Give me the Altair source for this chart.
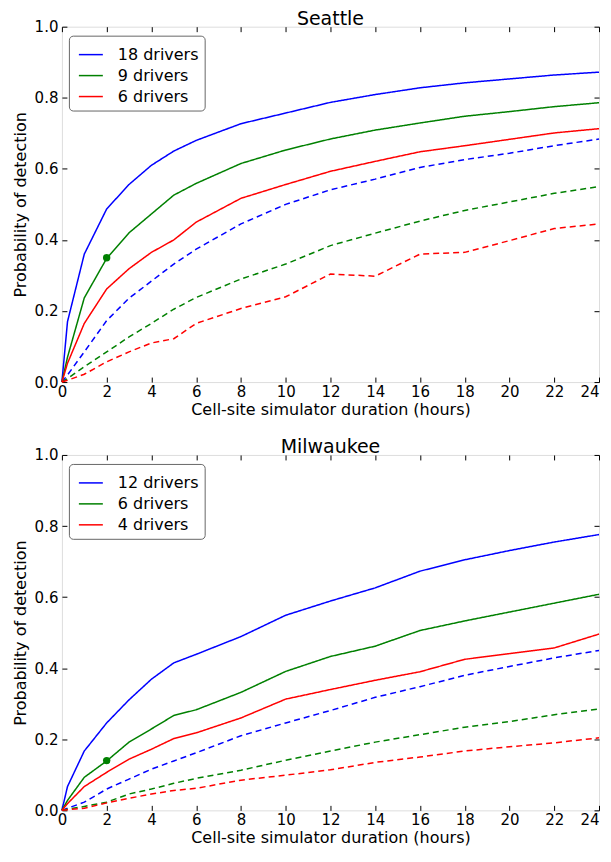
import altair as alt
import pandas as pd

hours = [0, 0.25, 1, 2, 3, 4, 5, 6, 8, 10, 12, 14, 16, 18, 20, 22, 24]

# Seattle
sea_labels = ["18 drivers", "9 drivers", "6 drivers"]
sea_18_solid = [0, 0.17, 0.36, 0.487, 0.556, 0.61, 0.65, 0.68, 0.727, 0.757, 0.787, 0.809, 0.828, 0.842, 0.853, 0.864, 0.872]
sea_9_solid = [0, 0.07, 0.237, 0.348, 0.42, 0.473, 0.526, 0.559, 0.615, 0.653, 0.684, 0.709, 0.729, 0.748, 0.761, 0.775, 0.786]
sea_6_solid = [0, 0.053, 0.165, 0.262, 0.319, 0.365, 0.40, 0.45, 0.517, 0.556, 0.593, 0.621, 0.648, 0.665, 0.683, 0.701, 0.713]
sea_18_dash = [0, 0.02, 0.085, 0.173, 0.236, 0.284, 0.332, 0.374, 0.445, 0.50, 0.541, 0.571, 0.604, 0.626, 0.644, 0.665, 0.684]
sea_9_dash = [0, 0.01, 0.043, 0.085, 0.127, 0.165, 0.205, 0.238, 0.29, 0.332, 0.384, 0.419, 0.453, 0.483, 0.507, 0.531, 0.55]
sea_6_dash = [0, 0.005, 0.022, 0.057, 0.085, 0.11, 0.122, 0.165, 0.207, 0.24, 0.304, 0.298, 0.36, 0.365, 0.398, 0.432, 0.445]
sea_dot = (2, 0.35)

# Milwaukee
mil_labels = ["12 drivers", "6 drivers", "4 drivers"]
mil_12_solid = [0, 0.067, 0.167, 0.246, 0.311, 0.369, 0.415, 0.439, 0.489, 0.549, 0.589, 0.626, 0.673, 0.705, 0.731, 0.755, 0.776]
mil_6_solid = [0, 0.028, 0.093, 0.139, 0.192, 0.229, 0.267, 0.283, 0.332, 0.391, 0.433, 0.462, 0.506, 0.533, 0.558, 0.583, 0.608]
mil_4_solid = [0, 0.019, 0.067, 0.107, 0.144, 0.172, 0.202, 0.218, 0.26, 0.313, 0.34, 0.366, 0.39, 0.425, 0.441, 0.457, 0.496]
mil_12_dash = [0, 0.006, 0.023, 0.06, 0.088, 0.116, 0.139, 0.162, 0.21, 0.246, 0.281, 0.318, 0.348, 0.38, 0.405, 0.429, 0.45]
mil_6_dash = [0, 0.003, 0.011, 0.023, 0.046, 0.06, 0.076, 0.09, 0.113, 0.141, 0.167, 0.192, 0.213, 0.234, 0.25, 0.269, 0.285]
mil_4_dash = [0, 0.002, 0.006, 0.021, 0.034, 0.046, 0.056, 0.062, 0.085, 0.099, 0.114, 0.135, 0.15, 0.167, 0.179, 0.19, 0.204]
mil_dot = (2, 0.14)

colors = ["#0000ff", "#008000", "#ff0000"]
FONT = "DejaVu Sans"
W, H = 538, 356


def long_df(labels, solids, dashes):
    rows = []
    for lab, s, d in zip(labels, solids, dashes):
        for h, v in zip(hours, s):
            rows.append({"hours": h, "value": v, "series": lab, "kind": "solid", "key": lab + " solid"})
        for h, v in zip(hours, d):
            rows.append({"hours": h, "value": v, "series": lab, "kind": "dashed", "key": lab + " dashed"})
    return pd.DataFrame(rows)


xscale = alt.Scale(domain=[0, 24], nice=False, zero=False)
yscale = alt.Scale(domain=[0, 1], nice=False)
xvals = list(range(0, 25, 2))
yvals = [0, 0.2, 0.4, 0.6, 0.8, 1.0]


def panel(title, labels, solids, dashes, dot):
    df = long_df(labels, solids, dashes)
    base = alt.Chart(df)
    lines = base.mark_line(strokeWidth=1.5).encode(
        x=alt.X("hours:Q", scale=xscale, axis=alt.Axis(
            values=xvals, format="d", title="Cell-site simulator duration (hours)",
            orient="bottom", offset=-5, tickSize=5, domain=False, grid=False,
            labelFlush=False, labelOverlap=False,
            labelAlign={"expr": "datum.value == 24 ? 'right' : 'center'"},
            labelPadding=2, labelFontSize=15, titleFontSize=16, titlePadding=2,
            labelFont=FONT, titleFont=FONT, titleFontWeight="normal",
            labelColor="black", titleColor="black", tickColor="black")),
        y=alt.Y("value:Q", scale=yscale, axis=alt.Axis(
            values=yvals, format=".1f", title="Probability of detection",
            orient="left", offset=-5, tickSize=5, domain=False, grid=False,
            labelFlush=False, labelOverlap=False,
            labelPadding=4, labelFontSize=15, titleFontSize=16, titlePadding=6,
            labelFont=FONT, titleFont=FONT, titleFontWeight="normal",
            labelColor="black", titleColor="black", tickColor="black")),
        color=alt.Color("series:N", scale=alt.Scale(domain=labels, range=colors),
                        sort=labels,
                        legend=alt.Legend(
                            title=None, orient="none", legendX=7, legendY=9,
                            symbolType="stroke", symbolSize=576, symbolStrokeWidth=1.5,
                            symbolOffset=3,
                            labelFontSize=16, labelFont=FONT, labelColor="black",
                            labelOffset=14, rowPadding=0, padding=6,
                            strokeColor="#666666", cornerRadius=4, fillColor="white")),
        strokeDash=alt.StrokeDash("kind:N", scale=alt.Scale(domain=["solid", "dashed"], range=[[1, 0], [6, 4]]), legend=None),
        detail="key:N",
    )
    dot_df = pd.DataFrame({"hours": [dot[0]], "value": [dot[1]]})
    point = alt.Chart(dot_df).mark_circle(size=55, color="#008000", opacity=1).encode(
        x=alt.X("hours:Q", scale=xscale, axis=None),
        y=alt.Y("value:Q", scale=yscale, axis=None),
    )
    ghost = base.mark_line(opacity=0).encode(
        x=alt.X("hours:Q", scale=xscale, axis=alt.Axis(
            values=xvals, orient="top", offset=-5, tickSize=5, labels=False,
            domain=False, grid=False, title=None, tickColor="black",
            minExtent=0, maxExtent=0)),
        y=alt.Y("value:Q", scale=yscale, axis=alt.Axis(
            values=yvals, orient="right", offset=-5, tickSize=5, labels=False,
            domain=False, grid=False, title=None, tickColor="black",
            minExtent=0, maxExtent=0)),
        detail="key:N",
    )
    return alt.layer(lines, point, ghost).resolve_axis(x="independent", y="independent").properties(
        width=W, height=H,
        title=alt.TitleParams(title, fontSize=19, font=FONT, fontWeight="normal", color="black", offset=-9, anchor="middle"),
    )


top = panel("Seattle", sea_labels, [sea_18_solid, sea_9_solid, sea_6_solid],
            [sea_18_dash, sea_9_dash, sea_6_dash], sea_dot)
bottom = panel("Milwaukee", mil_labels, [mil_12_solid, mil_6_solid, mil_4_solid],
               [mil_12_dash, mil_6_dash, mil_4_dash], mil_dot)

chart = alt.vconcat(top, bottom, spacing=19).resolve_scale(color="independent").properties(
    padding={"left": 3, "top": 0, "right": 0, "bottom": 0}
).configure_view(stroke="black", strokeWidth=1).configure(background="white")

chart.save("out.html", embed_options={"renderer": "svg", "actions": False})
